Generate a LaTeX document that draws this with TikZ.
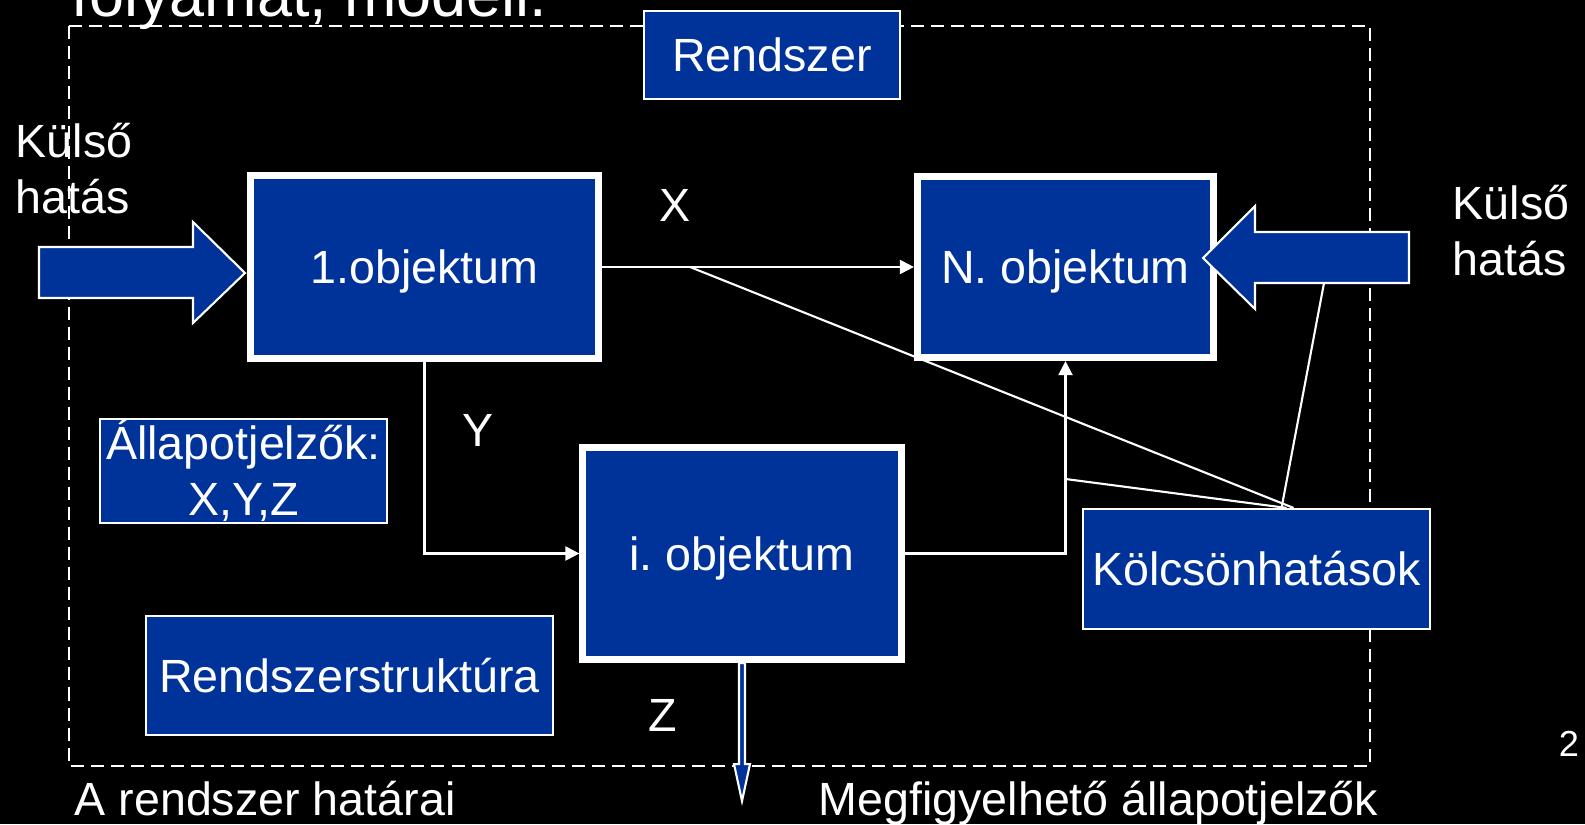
\documentclass[tikz,border=0pt]{standalone}
\usepackage{fontspec}
\setmainfont{Liberation Sans}
\usetikzlibrary{arrows.meta, calc, backgrounds}
\definecolor{boxblue}{RGB}{0,51,153}

\tikzset{
    objbox/.style={draw=white, line width=2pt, fill=boxblue, text=white, inner sep=0pt, text height=9.5pt, text depth=0pt},
    infobox/.style={draw=white, line width=0.6pt, fill=boxblue, text=white, inner sep=0pt, text height=9.5pt, text depth=0pt},
    blockarrow/.style={draw=white, line width=0.6pt, fill=boxblue},
    lbl/.style={text=white, inner sep=0pt},
    capslbl/.style={lbl, text height=9.5pt, text depth=0pt},
    flow/.style={draw=white, line width=0.6pt, -{Triangle[length=4pt, width=4pt]}},
    link/.style={draw=white, line width=0.6pt},
    boundary/.style={draw=white, line width=0.6pt, dash pattern=on 3.7pt off 2pt}
}

\begin{document}
\begin{tikzpicture}[x=0.01cm, y=-0.01cm, font=\fontsize{13.25pt}{15.9pt}\selectfont]
    \useasboundingbox (0,0) rectangle (1585,824);
    \clip (0,0) rectangle (1585,824);
    \begin{scope}[on background layer]
        \fill[black] (0,0) rectangle (1585,824);
    \end{scope}

    % title line, cut by the top edge
    \node[lbl, anchor=base west, font=\fontsize{17.9pt}{21pt}\selectfont] (title) at (71,16) {folyamat, modell.};

    \node[lbl, align=left, anchor=base west] (kulsoL) at (15,213) {Külső\\hatás};
    \node[lbl, align=left, anchor=base west] (kulsoR) at (1452,275) {Külső\\hatás};

    % system boundary
    \draw[boundary] (69,26) rectangle (1370,766);

    \node[infobox, minimum width=2.55cm, minimum height=0.88cm] (rendszer) at (772,55) {Rendszer};
    \node[objbox, minimum width=3.48cm, minimum height=1.83cm] (obj1) at (424.5,267) {1.objektum};
    \node[objbox, minimum width=2.96cm, minimum height=1.81cm] (objN) at (1065.5,267) {N. objektum};
    \node[objbox, minimum width=3.18cm, minimum height=2.12cm] (obji) at (742,553.5) {i.\ objektum};
    \node[infobox, align=center, text height=25.4pt, minimum width=2.87cm, minimum height=1.04cm] (allapot) at (243.5,471) {Állapotjelzők:\\X,Y,Z};
    \node[infobox, minimum width=3.47cm, minimum height=1.2cm] (kolcson) at (1256.5,569) {Kölcsönhatások};
    \node[infobox, minimum width=4.07cm, minimum height=1.19cm] (struktura) at (349.5,675.5) {Rendszerstruktúra};

    % outside influences
    \draw[blockarrow] (39,247) -- (193,247) -- (193,222) -- (245,273) -- (193,323) -- (193,298) -- (39,298) -- cycle;
    \draw[blockarrow] (1409,232) -- (1255,232) -- (1255,206) -- (1203,258) -- (1255,309) -- (1255,283) -- (1409,283) -- cycle;

    % observable output
    \draw[blockarrow] ($(obji.south)+(-3,0)$) -- ++(0,101) -- ++(-5,0) -- ++(8,37) -- ++(8,-37) -- ++(-5,0) -- ++(0,-101) -- cycle;

    \node[capslbl] (xlbl) at (675,205) {X};
    \node[capslbl] (ylbl) at (478,430) {Y};
    \node[capslbl] (zlbl) at (663,715) {Z};

    \node[lbl, anchor=base west] (hatarai) at (74,815) {A rendszer határai};
    \node[lbl, anchor=base west] (megfigy) at (818,815) {Megfigyelhető állapotjelzők};
    \node[capslbl, font=\fontsize{10.3pt}{12pt}\selectfont] (oldal) at (1569,740) {2};

    \coordinate (xbranch) at (690,267);
    \coordinate (ybranch) at (1065.5,479);
    \coordinate (rbranch) at (1324,283);
    \coordinate (meet) at ([xshift=0.3cm]kolcson.north);

    \begin{scope}[on background layer]
        \draw[flow] (obj1) -- (objN);
        \draw[flow] (obj1.south) |- (obji.west);
        \draw[flow] (obji.east) -| (objN.south);
        \draw[link] (xbranch) -- ([xshift=0.07cm]meet);
        \draw[link] (ybranch) -- (meet);
        \draw[link] (rbranch) -- ([xshift=-0.05cm]meet);
    \end{scope}
\end{tikzpicture}
\end{document}
